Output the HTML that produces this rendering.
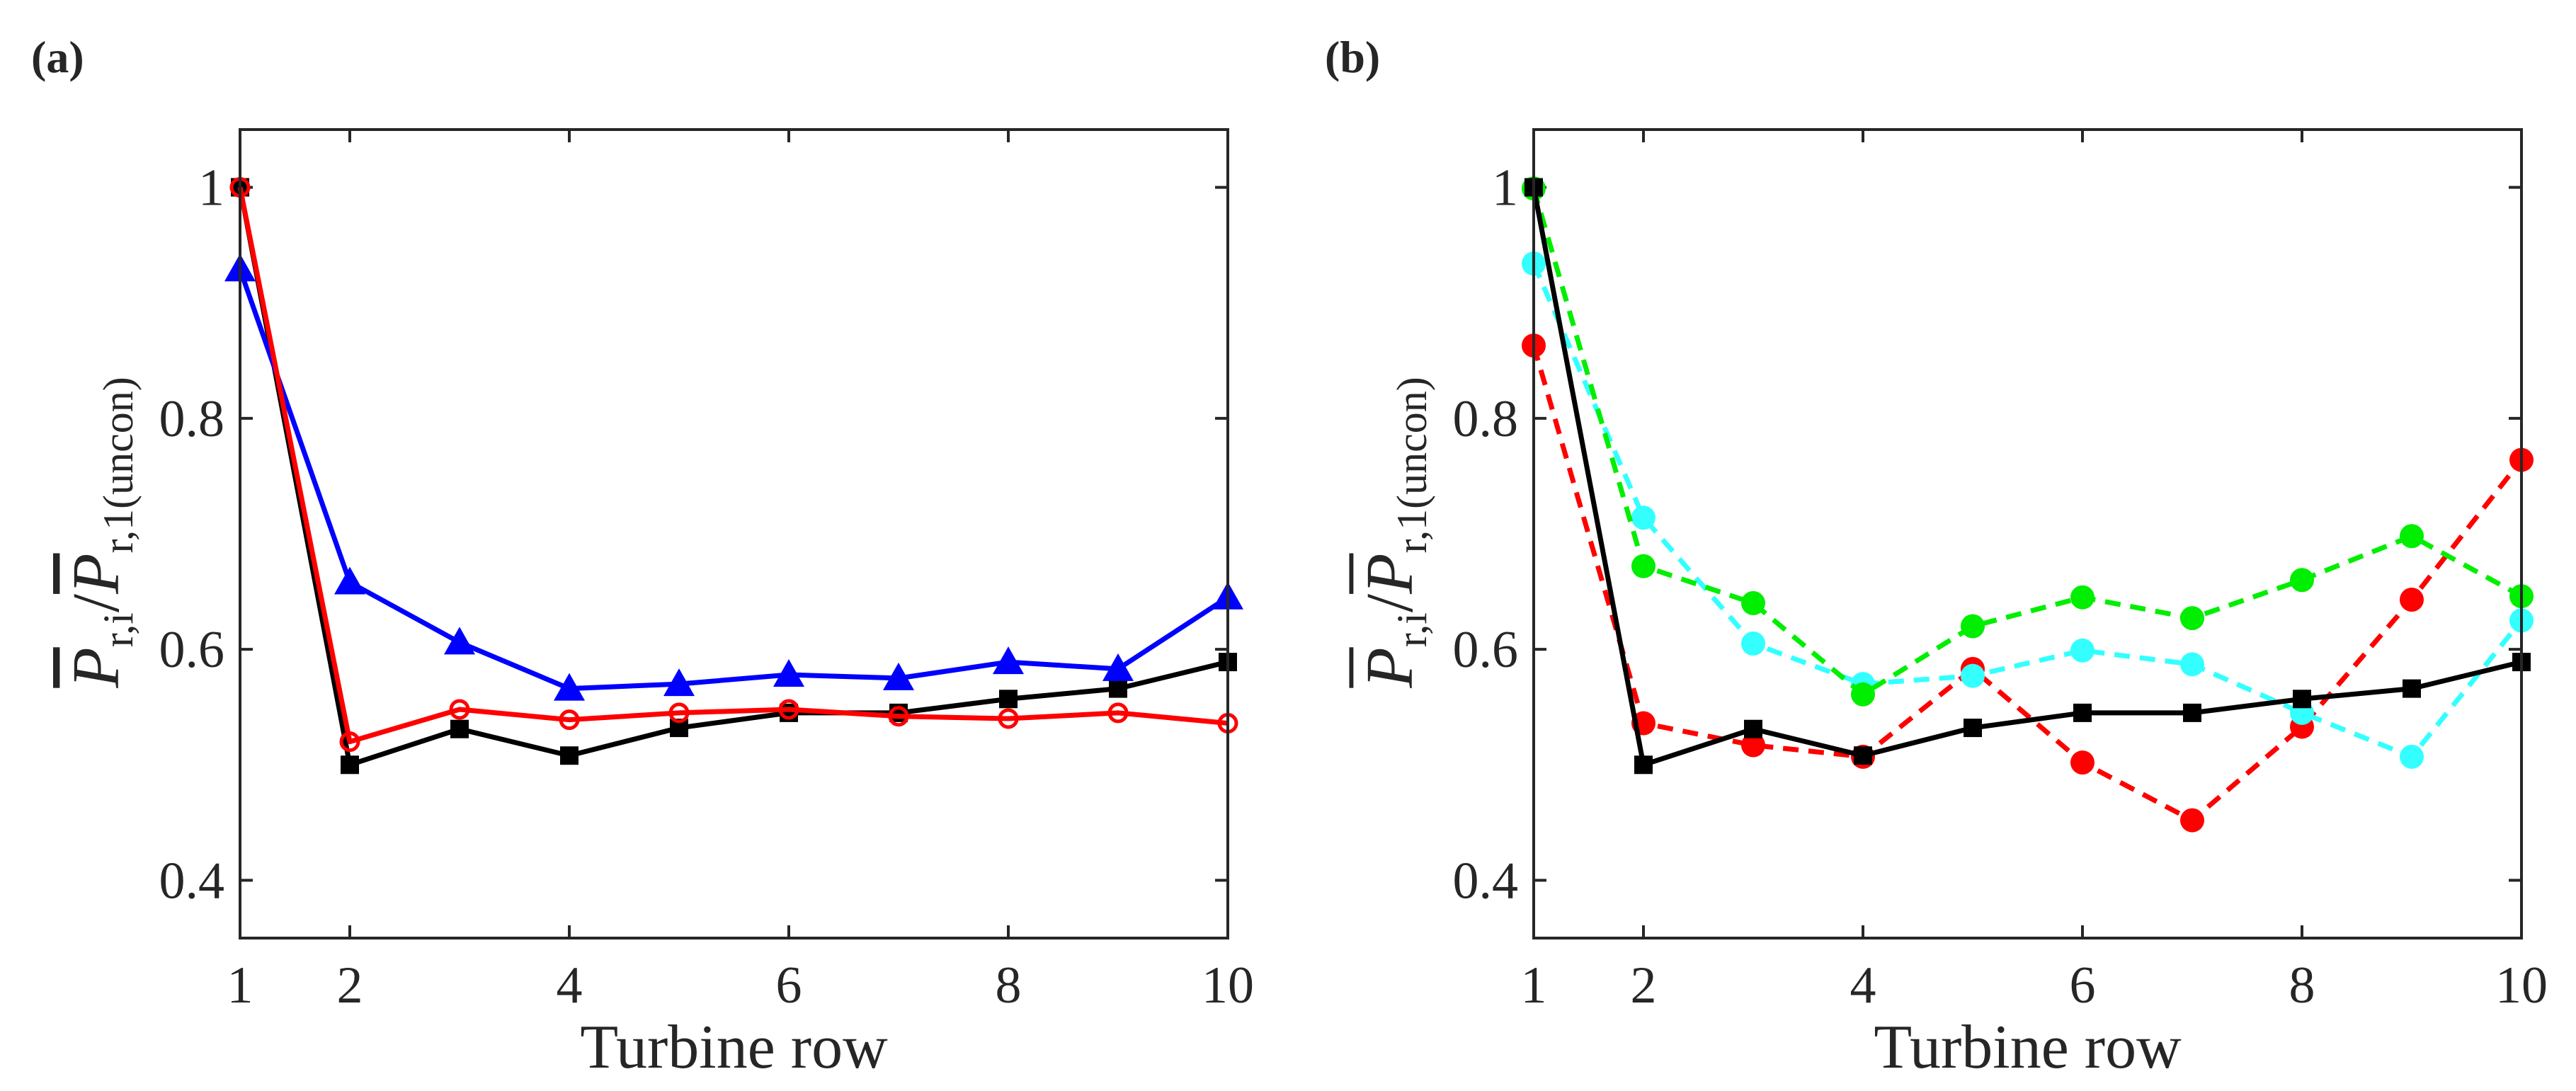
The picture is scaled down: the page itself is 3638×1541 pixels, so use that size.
<!DOCTYPE html>
<html><head><meta charset="utf-8"><style>
html,body{margin:0;padding:0;background:#fff;}
svg{display:block;}
text{font-family:"Liberation Serif",serif;fill:#262626;}
</style></head><body>
<svg id="chart" width="3638" height="1541" viewBox="0 0 3638 1541" xmlns="http://www.w3.org/2000/svg"></svg>
<script>
const rows = [1,2,3,4,5,6,7,8,9,10];
const xTicks = [1,2,4,6,8,10];
const yTicks = [0.4,0.6,0.8,1];
const yTickLabels = ["0.4","0.6","0.8","1"];
const aBlack = [1.0,0.500,0.531,0.508,0.532,0.545,0.545,0.557,0.566,0.589];
const aBlue  = [0.929,0.658,0.606,0.566,0.570,0.578,0.575,0.589,0.583,0.645];
const aRed   = [1.0,0.520,0.548,0.539,0.545,0.548,0.542,0.540,0.545,0.536];
const bBlack = [1.0,0.500,0.531,0.508,0.532,0.545,0.545,0.557,0.566,0.589];
const bGreen = [0.999,0.672,0.640,0.561,0.620,0.645,0.627,0.660,0.698,0.646];
const bCyan  = [0.934,0.714,0.605,0.570,0.577,0.599,0.587,0.545,0.507,0.625];
const bRed   = [0.863,0.536,0.517,0.507,0.583,0.502,0.452,0.533,0.643,0.764];

const NS="http://www.w3.org/2000/svg";
const svg=document.getElementById('chart');
function mk(tag,attrs,parent){const e=document.createElementNS(NS,tag);for(const k in attrs)e.setAttribute(k,attrs[k]);(parent||svg).appendChild(e);return e;}

function panel(x0,x1,letter,series){
  const y0=183,y1=1325;
  const sx=v=>x0+(v-1)/(10-1)*(x1-x0);
  const sy=v=>y1-(v-0.35)/(1.05-0.35)*(y1-y0);
  const g=mk('g',{});
  
  
  const lab=mk('text',{x:x0-295,y:102,'font-size':64,'font-weight':'bold'},g);
  lab.textContent='('+letter+')';
  
  
  xTicks.forEach(t=>{
    const x=sx(t);
    const tk=mk('path',{d:`M${x},${y1}V${y1-18}M${x},${y0}V${y0+18}`,stroke:'#262626','stroke-width':4},g);
    
    
    const tl=mk('text',{x:x,y:1416,'font-size':74,'text-anchor':'middle'},g);
    tl.textContent=t;
    
    
  });
  yTicks.forEach((t,i)=>{
    const y=sy(t);
    const tk=mk('path',{d:`M${x0},${y}H${x0+18}M${x1},${y}H${x1-18}`,stroke:'#262626','stroke-width':4},g);
    
    
    const tl=mk('text',{x:x0-22,y:y+25,'font-size':74,'text-anchor':'end'},g);
    tl.textContent=yTickLabels[i];
    
    
  });
  const xl=mk('text',{x:(x0+x1)/2,y:1508,'font-size':88,'text-anchor':'middle'},g);
  xl.textContent='Turbine row';
  
  
  const yl=mk('text',{transform:`translate(${x0-172},${752}) rotate(-90)`,'font-size':94,'text-anchor':'middle'},g);
  
  
  yl.innerHTML='<tspan font-style="italic" text-decoration="overline">P</tspan><tspan font-size="60" dy="20">r,i</tspan><tspan dy="-20">/</tspan><tspan font-style="italic" text-decoration="overline">P</tspan><tspan font-size="60" dy="20">r,1(uncon)</tspan>';
  series.forEach(s=>{
    const pts=rows.map((r,i)=>[sx(r),sy(s.data[i])]);
    const ln=mk('polyline',{points:pts.map(p=>p.join(',')).join(' '),fill:'none',stroke:s.color,'stroke-width':7,'stroke-dasharray':s.dash||'none','stroke-linejoin':'round'},g);
    
    
    pts.forEach(p=>{
      let m;
      if(s.marker==='square') m=mk('rect',{x:p[0]-13,y:p[1]-13,width:26,height:26,fill:s.color},g);
      else if(s.marker==='triangle') m=mk('polygon',{points:`${p[0]},${p[1]-22} ${p[0]-22},${p[1]+17} ${p[0]+22},${p[1]+17}`,fill:s.color},g);
      else if(s.marker==='open') m=mk('circle',{cx:p[0],cy:p[1],r:12,fill:'none',stroke:s.color,'stroke-width':5},g);
      else m=mk('circle',{cx:p[0],cy:p[1],r:17,fill:s.color},g);
      
      
    });
  });
  const fr=mk('rect',{x:x0,y:y0,width:x1-x0,height:y1-y0,fill:'none',stroke:'#262626','stroke-width':4},g);
  
  
}
panel(339,1734,'a',[
  {name:'black-baseline',data:aBlack,color:'#000',marker:'square'},
  {name:'blue-series',data:aBlue,color:'#0000ff',marker:'triangle'},
  {name:'red-series',data:aRed,color:'#ff0000',marker:'open'}
]);
panel(2166,3561,'b',[
  {name:'red-dashed-series',data:bRed,color:'#ff0000',marker:'dot',dash:'22 14'},
  {name:'cyan-dashed-series',data:bCyan,color:'#33ffff',marker:'dot',dash:'22 14'},
  {name:'green-dashed-series',data:bGreen,color:'#00ee00',marker:'dot',dash:'22 14'},
  {name:'black-baseline',data:bBlack,color:'#000',marker:'square'}
]);
</script>
</body></html>
